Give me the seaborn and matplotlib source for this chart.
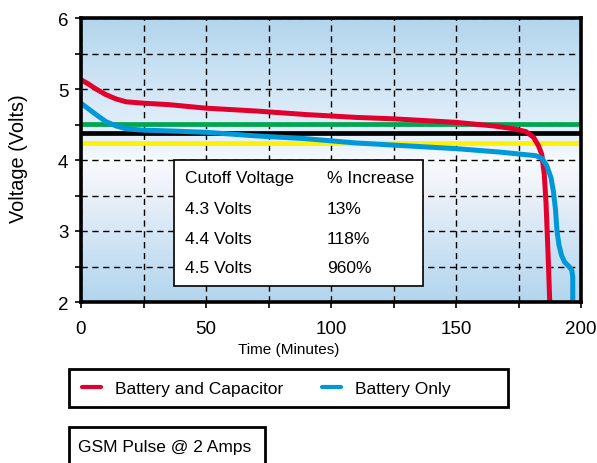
import seaborn as sns
import numpy as np
import pandas as pd
import matplotlib.pyplot as plt
from matplotlib.colors import LinearSegmentedColormap
from matplotlib.lines import Line2D
from matplotlib.patches import Rectangle
from matplotlib.ticker import MultipleLocator

# data
t_cap = [0, 3, 6, 10, 14, 18, 25, 35, 50, 70, 90, 110, 125, 150, 165, 173, 178,
         181, 183, 184.3, 185.3, 186, 186.8, 187.5]
v_cap = [5.13, 5.07, 5.0, 4.92, 4.86, 4.82, 4.8, 4.78, 4.73, 4.69, 4.64, 4.6, 4.58,
         4.53, 4.48, 4.44, 4.4, 4.32, 4.2, 4.08, 3.8, 3.4, 2.7, 2.0]
t_bat = [0, 3, 6, 10, 14, 18, 25, 35, 50, 70, 90, 110, 130, 150, 168, 182, 184.5,
         186.3, 188, 189, 189.8, 190.4, 191.2, 192.3, 193.5, 195.2, 196.3, 196.7, 196.7]
v_bat = [4.8, 4.72, 4.64, 4.54, 4.48, 4.44, 4.42, 4.41, 4.39, 4.34, 4.3, 4.24, 4.2,
         4.16, 4.11, 4.06, 4.02, 3.92, 3.75, 3.55, 3.3, 3.0, 2.8, 2.65, 2.56, 2.5,
         2.45, 2.35, 2.0]
cutoff_levels = [4.24, 4.38, 4.51]
cutoff_colors = ["#fff200", "#000000", "#00a651"]
table_head = ["Cutoff Voltage", "% Increase"]
cutoff_labels = ["4.3 Volts", "4.4 Volts", "4.5 Volts"]
increases = ["13%", "118%", "960%"]

red = "#e2002d"
blue = "#0098d8"

df = pd.concat([
    pd.DataFrame({"t": t_cap, "v": v_cap, "s": "Battery and Capacitor"}),
    pd.DataFrame({"t": t_bat, "v": v_bat, "s": "Battery Only"}),
])

sns.set_style("white")
plt.rcParams['font.family'] = ['Liberation Sans', 'DejaVu Sans']
plt.rcParams['text.color'] = 'black'
plt.rcParams['axes.labelcolor'] = 'black'
plt.rcParams['xtick.color'] = 'black'
plt.rcParams['ytick.color'] = 'black'

fig = plt.figure(figsize=(5.97, 4.64), dpi=100)
ax = fig.add_axes([81/597, 1-303/464, 500/597, 284/464])

# background gradient
cmap = LinearSegmentedColormap.from_list("bg", [
    (0.0, "#b2d5ed"), (0.25, "#d2e6f6"), (0.45, "#eaf3fb"), (0.5, "#f8fbfe"),
    (0.62, "#ecf0f8"), (0.75, "#d6e7f6"), (1.0, "#b2d5ed")])
grad = np.linspace(0, 1, 256).reshape(-1, 1)
ax.imshow(grad, cmap=cmap, extent=[0, 200, 2, 6], aspect="auto", zorder=0,
          origin="upper")

for lv, c in zip(cutoff_levels, cutoff_colors):
    ax.axhline(lv, color=c, lw=3.4, zorder=3)

sns.lineplot(data=df, x="t", y="v", hue="s", palette=[red, blue], sort=False,
             estimator=None, lw=3.6, ax=ax, legend=False, zorder=4)

ax.set_xlim(0, 200)
ax.set_ylim(2, 6)
ax.xaxis.set_major_locator(MultipleLocator(50))
ax.xaxis.set_minor_locator(MultipleLocator(25))
ax.yaxis.set_major_locator(MultipleLocator(1))
ax.yaxis.set_minor_locator(MultipleLocator(0.5))
ax.grid(True, which="both", color="black", lw=1, linestyle=(0, (4.5, 3.3)))
ax.set_axisbelow(False)
ax.tick_params(which="both", direction="out", length=4, width=1.2, color="black",
               bottom=True, left=True)
ax.tick_params(axis="y", labelsize=13.5, pad=5)
ax.tick_params(axis="x", labelsize=13.5, pad=9)
for sp in ax.spines.values():
    sp.set_linewidth(2.6)
    sp.set_color("black")
    sp.set_zorder(6)

ax.set_xlabel("Time (Minutes)", fontsize=11)
ax.set_ylabel("Voltage (Volts)", fontsize=14.3)
ax.xaxis.set_label_coords(0.416, -0.142)
ax.yaxis.set_label_coords(-0.106, 0.51)

# table box
ax.add_patch(Rectangle((37.2, 2.22), 99.6, 1.78, facecolor="white",
                       edgecolor="black", lw=1.2, zorder=5))
ax.text(41.6, 3.76, table_head[0], fontsize=12.5, va="center", zorder=6)
ax.text(98.4, 3.76, table_head[1], fontsize=12.5, va="center", zorder=6)
for i, (a, b) in enumerate(zip(cutoff_labels, increases)):
    y = [3.32, 2.9, 2.48][i]
    ax.text(41.6, y, a, fontsize=12.5, va="center", zorder=6)
    ax.text(98.4, y, b, fontsize=12.5, va="center", zorder=6)

# legend box
fig.patches.append(Rectangle((69/597, 1-408/464), 439/597, 38/464, fill=False,
                             edgecolor="black", lw=2, transform=fig.transFigure))
handles = [Line2D([], [], color=red, lw=3), Line2D([], [], color=blue, lw=3)]
fig.legend(handles, ["Battery and Capacitor", "Battery Only"], ncol=2,
           loc="center left", bbox_to_anchor=(82/597, 1-389/464), frameon=False,
           fontsize=12.5, handlelength=1.1, handletextpad=0.8, columnspacing=2.24,
           borderpad=0, borderaxespad=0)

# GSM box
fig.patches.append(Rectangle((69/597, -6/464), 196/597, 42/464, fill=False,
                             edgecolor="black", lw=2, transform=fig.transFigure))
fig.text(78/597, 1-448/464, "GSM Pulse @ 2 Amps", fontsize=12.5, va="center")

fig.savefig("out.png", dpi=100)
